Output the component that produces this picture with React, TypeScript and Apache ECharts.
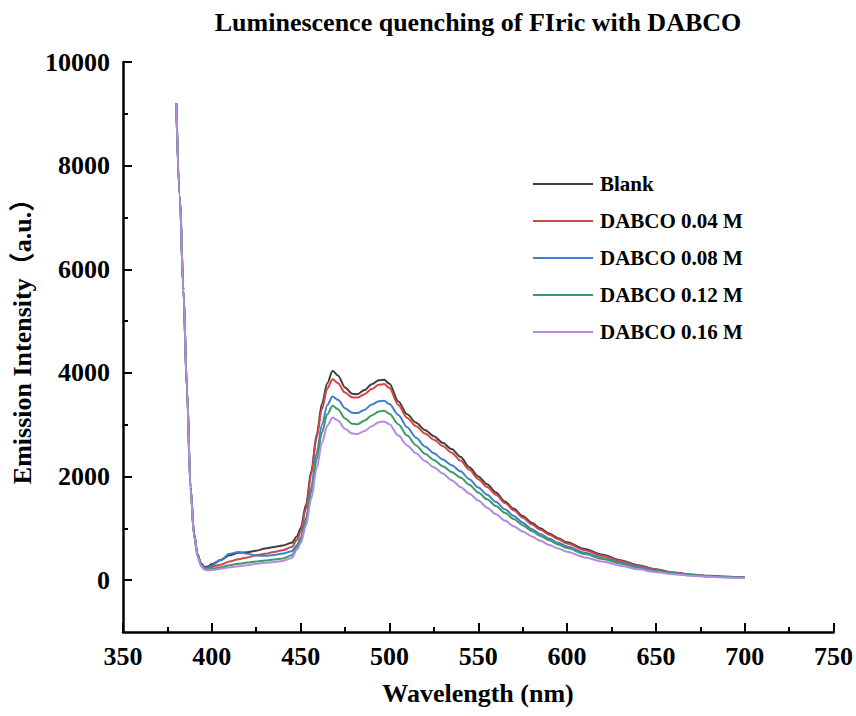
import React, { useEffect, useRef } from "react";
import * as echarts from "echarts";

const WAVELENGTH = [
  380, 382, 384, 386, 388, 390, 392, 394, 396, 398,
  400, 405, 410, 415, 420, 425, 430, 435, 440, 445,
  448, 450, 453, 456, 459, 462, 465, 468, 471, 475, 479, 482, 486, 490, 494, 497,
  500, 505, 510, 515, 520, 525, 530, 535, 540, 545, 550, 555, 560, 565, 570, 575, 580, 585, 590, 595, 600,
  610, 620, 630, 640, 650, 660, 670, 680, 690, 700,
];

const BLANK = [
  9200, 7400, 5600, 3700, 1800, 900, 500, 320, 250, 270,
  310, 390, 480, 530, 540, 570, 610, 640, 670, 720,
  850, 1000, 1450, 2100, 2800, 3400, 3800, 4040, 3950, 3720, 3600, 3590, 3670, 3780, 3860, 3870,
  3790, 3450, 3200, 3040, 2900, 2780, 2650, 2530, 2380, 2180, 2000, 1850, 1690, 1520, 1380, 1240, 1110, 1000, 900, 810, 730,
  600, 490, 385, 290, 210, 150, 110, 85, 68, 55,
];

const DABCO_004 = [
  9200, 7400, 5600, 3700, 1800, 880, 480, 300, 235, 240,
  255, 300, 360, 405, 440, 480, 510, 545, 580, 640,
  780, 930, 1380, 2050, 2750, 3300, 3700, 3880, 3800, 3620, 3530, 3525, 3590, 3690, 3770, 3785,
  3710, 3380, 3130, 2970, 2830, 2710, 2590, 2460, 2310, 2130, 1950, 1800, 1650, 1490, 1350, 1210, 1080, 975, 875, 790, 710,
  580, 470, 370, 280, 205, 145, 105, 80, 65, 52,
];

const DABCO_008 = [
  9200, 7400, 5600, 3700, 1800, 880, 480, 300, 230, 245,
  280, 390, 510, 545, 510, 475, 470, 485, 515, 560,
  680, 820, 1200, 1800, 2450, 3000, 3380, 3545, 3480, 3320, 3230, 3225, 3290, 3390, 3455, 3462,
  3400, 3190, 2950, 2750, 2580, 2450, 2330, 2220, 2100, 1950, 1790, 1650, 1510, 1370, 1240, 1110, 990, 890, 800, 720, 650,
  530, 430, 340, 255, 185, 135, 100, 75, 60, 48,
];

const DABCO_012 = [
  9200, 7400, 5600, 3700, 1780, 860, 460, 280, 210, 205,
  215, 250, 290, 315, 340, 360, 380, 400, 420, 480,
  640, 770, 1130, 1700, 2320, 2850, 3200, 3365, 3300, 3120, 3020, 3010, 3080, 3180, 3255, 3270,
  3210, 3010, 2790, 2600, 2440, 2320, 2200, 2090, 1980, 1840, 1690, 1560, 1430, 1300, 1180, 1060, 950, 855, 770, 690, 620,
  505, 410, 320, 240, 175, 128, 95, 72, 58, 46,
];

const DABCO_016 = [
  9200, 7400, 5600, 3700, 1780, 860, 450, 270, 200, 190,
  195, 220, 250, 270, 290, 315, 335, 350, 370, 430,
  590, 710, 1050, 1580, 2150, 2650, 2980, 3140, 3080, 2920, 2830, 2820, 2880, 2970, 3050, 3062,
  3010, 2790, 2600, 2450, 2300, 2180, 2060, 1930, 1800, 1670, 1540, 1400, 1270, 1150, 1040, 940, 850, 760, 680, 610, 550,
  440, 360, 280, 210, 155, 115, 85, 65, 52, 42,
];

const SERIES_NAMES = ["Blank", "DABCO 0.04 M", "DABCO 0.08 M", "DABCO 0.12 M", "DABCO 0.16 M"];
const SERIES_VALUES = [BLANK, DABCO_004, DABCO_008, DABCO_012, DABCO_016];
const SERIES_COLORS = ["#404040", "#d64541", "#3f7fd0", "#3d9b62", "#b38be0"];

const Y_MAJOR = [0, 2000, 4000, 6000, 8000, 10000];
const Y_MINOR = [1000, 3000, 5000, 7000, 9000];

const TITLE = "Luminescence quenching of FIric with DABCO";
const X_NAME = "Wavelength (nm)";
const Y_NAME = "Emission Intensity（a.u.）";

const FONT = "'Liberation Serif', 'Noto Sans CJK SC', serif";

export default function App() {
  const ref = useRef<HTMLDivElement>(null);

  useEffect(() => {
    if (!ref.current) return;
    const chart = echarts.init(ref.current, null, { renderer: "svg" });
    const axisText = { fontFamily: FONT, fontWeight: "bold", fontSize: 26, color: "#000" };
    const option: any = {
      animation: false,
      backgroundColor: "#fff",
      grid: { left: 123, right: 22, top: 62, bottom: 84 },
      xAxis: {
        type: "value",
        min: 350,
        max: 750,
        interval: 50,
        axisLine: { show: true, onZero: false, lineStyle: { color: "#000", width: 2.5 } },
        axisTick: { show: true, inside: true, length: 9, lineStyle: { color: "#000", width: 2 } },
        minorTick: { show: true, splitNumber: 2, length: 5, lineStyle: { color: "#000", width: 2 } },
        splitLine: { show: false },
        minorSplitLine: { show: false },
        axisLabel: { ...axisText, margin: 11, formatter: (v: number) => String(v) },
      },
      yAxis: [
        {
          type: "value",
          min: -1000,
          max: 10000,
          position: "left",
          axisLine: { show: true, onZero: false, lineStyle: { color: "#000", width: 2.5 } },
          axisTick: { show: true, inside: true, length: 9, customValues: Y_MAJOR, lineStyle: { color: "#000", width: 2 } },
          axisLabel: { ...axisText, margin: 13, customValues: Y_MAJOR, formatter: (v: number) => String(v) },
          splitLine: { show: false },
        },
        {
          type: "value",
          min: -1000,
          max: 10000,
          position: "left",
          offset: 0,
          axisLine: { show: false },
          axisTick: { show: true, inside: true, length: 5, customValues: Y_MINOR, lineStyle: { color: "#000", width: 2 } },
          axisLabel: { show: false },
          splitLine: { show: false },
        },
      ],
      legend: {
        orient: "vertical",
        left: 528,
        top: 167,
        padding: 5,
        icon: "rect",
        itemWidth: 60,
        itemHeight: 2,
        itemGap: 13,
        data: SERIES_NAMES,
        textStyle: { fontFamily: FONT, fontWeight: "bold", fontSize: 21, lineHeight: 24, color: "#000", padding: [0, 0, 0, 2] },
      },
      series: SERIES_NAMES.map((name, i) => ({
        name,
        type: "line",
        xAxisIndex: 0,
        yAxisIndex: 0,
        symbol: "none",
        smooth: 0.3,
        smoothMonotone: "x",
        color: SERIES_COLORS[i],
        itemStyle: { color: SERIES_COLORS[i] },
        lineStyle: { width: 2, color: SERIES_COLORS[i] },
        data: WAVELENGTH.map((w, j) => [w, SERIES_VALUES[i][j]]),
      })),
      graphic: [
        {
          type: "text",
          x: 478,
          y: 22,
          style: {
            text: TITLE,
            font: `bold 26px ${FONT}`,
            fill: "#000",
            textAlign: "center",
            textVerticalAlign: "middle",
          },
        },
        {
          type: "text",
          x: 478,
          y: 693,
          style: {
            text: X_NAME,
            font: `bold 26px ${FONT}`,
            fill: "#000",
            textAlign: "center",
            textVerticalAlign: "middle",
          },
        },
        {
          type: "text",
          x: 22,
          y: 335,
          rotation: Math.PI / 2,
          style: {
            text: Y_NAME,
            font: `bold 26px ${FONT}`,
            fill: "#000",
            textAlign: "center",
            textVerticalAlign: "middle",
          },
        },
      ],
    };
    chart.setOption(option);
    return () => chart.dispose();
  }, []);

  return (
    <div
      ref={ref}
      style={{ position: "fixed", left: 0, top: 0, width: 856, height: 716, background: "#fff" }}
    />
  );
}
